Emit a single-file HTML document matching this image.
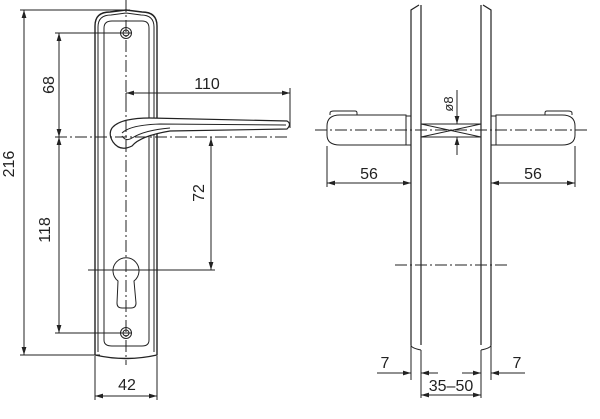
<!DOCTYPE html>
<html><head><style>
html,body{margin:0;padding:0;background:#fff;}
svg{display:block;}
text{font-family:"Liberation Sans",sans-serif;font-size:16px;fill:#222;}
</style></head><body>
<svg width="600" height="419" viewBox="0 0 600 419" xmlns="http://www.w3.org/2000/svg">
<defs>
<marker id="a" viewBox="0 0 10 6" refX="10" refY="3" markerWidth="8" markerHeight="5" orient="auto-start-reverse"><path d="M0,0L10,3L0,6z" fill="#222"/></marker>
</defs>
<g stroke="#222" fill="none" stroke-width="1">
<!-- left plate -->
<path d="M95,355 V26 Q95,12 110,12 L126,10 L142,12 Q157,12 157,26 V355 Q126,362 95,355" stroke-width="1.4"/>
<path d="M98,352 V27 Q98,15 111,15 L126,13 L141,15 Q154,15 154,27 V352"/>
<path d="M104,340 V28 Q104,21 112,21 H142 Q149,21 149,28 V340 Q149,346 142,346 H112 Q104,346 104,340"/>
<circle cx="126" cy="33" r="5.5"/><circle cx="126" cy="33" r="3"/>
<circle cx="126" cy="333" r="5.5"/><circle cx="126" cy="333" r="3"/>
<!-- keyhole -->
<path d="M118,281 A13,13 0 1 1 134,281 L136,303 Q136,308 131,308 H122 Q117,308 117,303 Z" fill="#fff"/>
<!-- lever -->
<path d="M112,128 Q120,118 150,118 L287,121 Q292,124 287,129 L170,131 Q140,136 132,146 Q120,152 113,142 Q108,134 112,128 Z" fill="#fff" stroke-width="1.2"/>
<path d="M122,133 Q130,125 160,124 L286,125 M122,136 Q126,142 132,138 Q145,130 170,128"/>
<!-- centerlines -->
<path d="M126,0 V365" stroke-dasharray="12,3,2,3"/>
<path d="M55,137 H290" stroke-dasharray="12,3,2,3"/>
<path d="M88,270 H165" />
<!-- dims left -->
<path d="M20,10 H130 M20,355 H100 M55,33 H131 M55,333 H131 M126,93 V110 M290,88 V128 M211,137 V270 M165,270 H215"/>
<path d="M24,10 V355" marker-start="url(#a)" marker-end="url(#a)"/>
<path d="M59,33 V137" marker-start="url(#a)" marker-end="url(#a)"/>
<path d="M59,137 V333" marker-start="url(#a)" marker-end="url(#a)"/>
<path d="M126,93 H290" marker-start="url(#a)" marker-end="url(#a)"/>
<path d="M211,138 V270" marker-start="url(#a)" marker-end="url(#a)"/>
<path d="M95,356 V400 M157,356 V400"/>
<path d="M95,396 H157" marker-start="url(#a)" marker-end="url(#a)"/>

<!-- right view plates -->
<path d="M411,345 V10 L419,5 M421,345 V5 M481,345 V5 M491,345 V10 L483,5" stroke-width="1.2"/>
<path d="M411,345 Q411,348 421,350 M491,345 Q491,348 481,350"/>
<path d="M421,350 V398 M481,350 V398 M411,345 V380 M491,345 V380"/>
<!-- handles -->
<path d="M406,115 H340 Q327,115 327,126 V135 Q327,145 340,145 H406 Z M330,115 V113 Q330,111 334,111 H355 Q357,111 357,113 V115 M406,116 H411 V145 H406"/>
<path d="M496,115 H562 Q575,115 575,126 V135 Q575,145 562,145 H496 Z M572,115 V113 Q572,111 568,111 H547 Q545,111 545,113 V115 M496,116 H491 V145 H496"/>
<path d="M421,124 H481 M421,137 H481 M421,124 L481,137 M421,137 L481,124"/>
<path d="M315,130 H588" stroke-dasharray="12,3,2,3"/>
<path d="M395,265 H510" stroke-dasharray="12,3,2,3"/>
<path d="M457,90 V124 M457,137 V155"/>
<path d="M457,110 V124" marker-end="url(#a)"/>
<path d="M457,151 V137" marker-end="url(#a)"/>
<path d="M327,146 V187 M575,146 V187"/>
<path d="M327,183 H411" marker-start="url(#a)" marker-end="url(#a)"/>
<path d="M491,183 H575" marker-start="url(#a)" marker-end="url(#a)"/>
<path d="M377,373 H411" marker-end="url(#a)"/>
<path d="M438,373 H421" marker-end="url(#a)"/>
<path d="M462,373 H481" marker-end="url(#a)"/>
<path d="M525,373 H491" marker-end="url(#a)"/>
<path d="M421,395 H481" marker-start="url(#a)" marker-end="url(#a)"/>
</g>
<text x="20" y="170" transform="rotate(-90 14 170)" text-anchor="middle">216</text>
<text x="54" y="85" transform="rotate(-90 54 85)" text-anchor="middle">68</text>
<text x="50" y="230" transform="rotate(-90 50 230)" text-anchor="middle">118</text>
<text x="207" y="89" text-anchor="middle">110</text>
<text x="204" y="193" transform="rotate(-90 204 193)" text-anchor="middle">72</text>
<text x="127" y="390" text-anchor="middle">42</text>
<text x="369" y="179" text-anchor="middle">56</text>
<text x="533" y="179" text-anchor="middle">56</text>
<text x="453" y="104" transform="rotate(-90 453 104)" text-anchor="middle" style="font-size:13px">ø8</text>
<text x="385" y="368" text-anchor="middle">7</text>
<text x="517" y="368" text-anchor="middle">7</text>
<text x="451" y="391" text-anchor="middle">35–50</text>
</svg>
</body></html>
